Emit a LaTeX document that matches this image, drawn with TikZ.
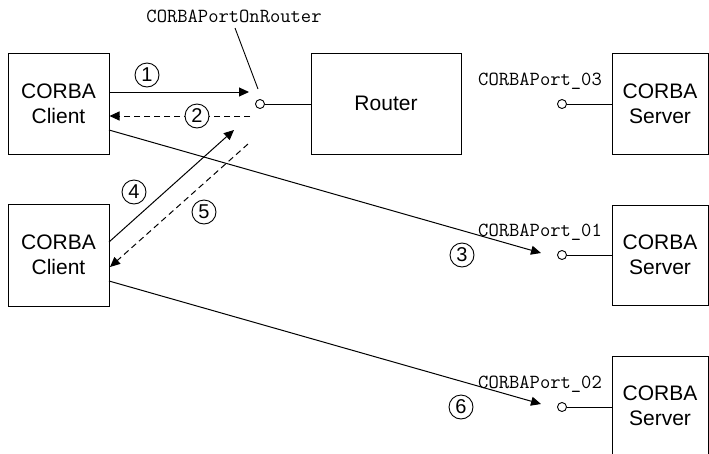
\documentclass[tikz,border=0pt]{standalone}
\usepackage{fontspec}
\setmainfont{Liberation Sans}
\usetikzlibrary{arrows.meta,calc}
\begin{document}
\begin{tikzpicture}[x=1pt,y=-1pt,
  box/.style={draw,line width=1pt,inner sep=0pt,align=center,font=\fontsize{21}{25}\selectfont},
  port/.style={circle,draw,line width=0.9pt,minimum size=9pt,inner sep=0pt,fill=white},
  plabel/.style={font=\ttfamily\fontsize{20}{20}\selectfont,anchor=base,inner sep=0pt},
  num/.style={circle,draw,line width=0.9pt,minimum size=24pt,inner sep=0pt,font=\fontsize{20}{20}\selectfont},
  arr/.style={line width=1pt,-{Triangle[length=10pt,width=9pt]}},
  dsh/.style={arr,dash pattern=on 6pt off 4pt},
  thin line/.style={line width=0.9pt}]
\useasboundingbox (0,0) rectangle (709,453);

% boxes
\node[box,minimum width=101pt,minimum height=101pt] (c1) at (58.5,103.5) {CORBA\\Client};
\node[box,minimum width=150pt,minimum height=101pt] (r) at (386,103.5) {Router};
\node[box,minimum width=96pt,minimum height=101pt] (s3) at (660,103.5) {CORBA\\Server};
\node[box,minimum width=101pt,minimum height=102pt] (c2) at (58.5,255) {CORBA\\Client};
\node[box,minimum width=96pt,minimum height=100pt] (s1) at (660,255) {CORBA\\Server};
\node[box,minimum width=96pt,minimum height=100pt] (s2) at (660,406) {CORBA\\Server};

% ports
\node[port] (p0) at (260,104) {};
\node[port] (p3) at (562,104) {};
\node[port] (p1) at (562,255) {};
\node[port] (p2) at (562,407) {};
\draw[thin line] (p0) -- (r.west |- p0);
\draw[thin line] (p3) -- (s3.west |- p3);
\draw[thin line] (p1) -- (s1.west |- p1);
\draw[thin line] (p2) -- (s2.west |- p2);

% port labels
\node[plabel] (l0) at (234,22) {CORBAPortOnRouter};
\node[plabel] (l3) at (540,85) {CORBAPort\_03};
\node[plabel] (l1) at (540,236) {CORBAPort\_01};
\node[plabel] (l2) at (540,388) {CORBAPort\_02};
\coordinate (ld1) at (235,28);
\coordinate (ld2) at (258,89);
\draw[thin line] (ld1) -- (ld2);

% connector end points
\coordinate (a1e) at (249,92);
\coordinate (a2s) at (250,116);
\coordinate (c1o3) at (109,130);
\coordinate (a3e) at (541,253);
\coordinate (c2o4) at (109,242);
\coordinate (a4e) at (234,130);
\coordinate (a5s) at (248,144);
\coordinate (c2i5) at (110,267);
\coordinate (c2o6) at (109,281);
\coordinate (a6e) at (541,404);

\draw[arr] (c1.east |- a1e) -- (a1e);
\draw[dsh] (a2s) -- (c1.east |- a2s);
\draw[arr] (c1o3) -- (a3e);
\draw[arr] (c2o4) -- (a4e);
\draw[dsh] (a5s) -- (c2i5);
\draw[arr] (c2o6) -- (a6e);

% step numbers
\node[num] (n1) at (147,75) {1};
\node[num,fill=white] (n2) at (197,116) {2};
\node[num] (n3) at (462,255) {3};
\node[num] (n4) at (134,192) {4};
\node[num] (n5) at (204,212) {5};
\node[num] (n6) at (461,407) {6};
\end{tikzpicture}
\end{document}
